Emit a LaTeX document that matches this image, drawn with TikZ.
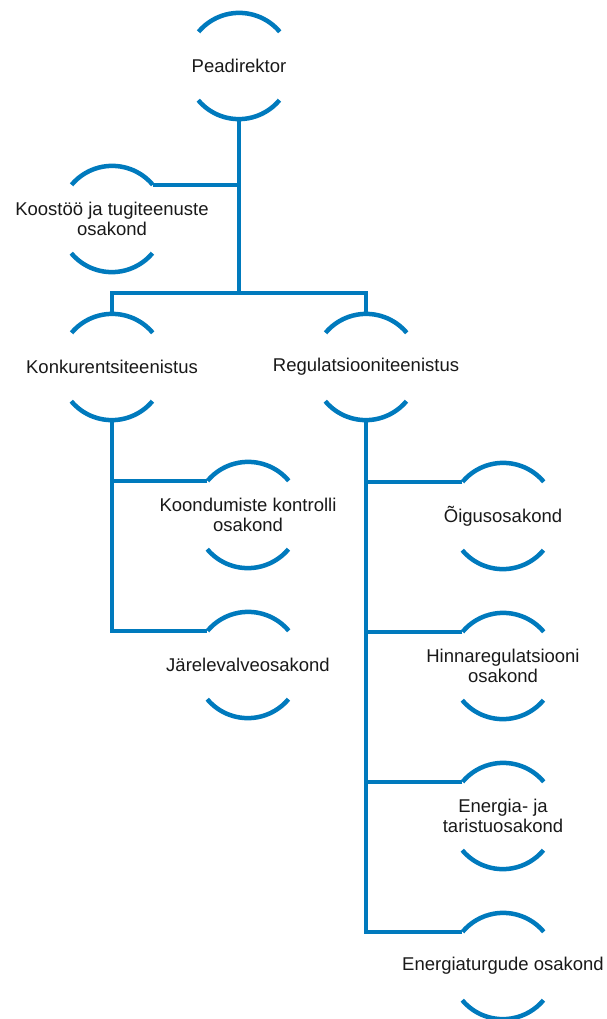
\documentclass[tikz,border=0pt]{standalone}
\usepackage{fontspec}
\setmainfont{Liberation Sans}
\definecolor{orgblue}{RGB}{0,122,189}
\definecolor{txt}{RGB}{25,25,25}
\tikzset{
  ring/.style={circle,draw=none,minimum size=106pt,inner sep=0pt},
  lbl/.style={text=txt,font=\fontsize{18.5}{20.5}\selectfont,align=center,inner sep=0pt},
  arcline/.style={draw=orgblue,line width=4.5pt,line cap=butt},
  conn/.style={draw=orgblue,line width=4.5pt,line join=miter}
}
\newcommand\orgunit[3]{%
  \node[ring] (#1) at (#2) {};
  \node[lbl] (#1-t) at (#1) {#3};
  \draw[arcline] (#1.40) arc[start angle=40,end angle=140,radius=53pt];
  \draw[arcline] (#1.220) arc[start angle=220,end angle=320,radius=53pt];
}
\begin{document}
\begin{tikzpicture}[x=1pt,y=1pt]
\useasboundingbox (0,0) rectangle (606,-1019);
\orgunit{pd}{239,-66}{Peadirektor}
\orgunit{ko}{112,-219}{Koostöö ja tugiteenuste\\osakond}
\orgunit{kr}{112,-367}{Konkurentsiteenistus}
\orgunit{rg}{366,-367}{Regulatsiooniteenistus}
\orgunit{kk}{248,-515}{Koondumiste kontrolli\\osakond}
\orgunit{jr}{248,-665}{Järelevalveosakond}
\orgunit{og}{503,-516}{Õigusosakond}
\orgunit{hr}{503,-666}{Hinnaregulatsiooni\\osakond}
\orgunit{et}{503,-816}{Energia- ja\\taristuosakond}
\orgunit{eo}{503,-966}{Energiaturgude osakond}
\coordinate (bar) at (239,-293);
% top level
\draw[conn] (pd.south) -- (bar);
\draw[conn] (ko.40) -- (ko.40 -| pd.south);
\draw[conn] (kr.north) -- (kr.north |- bar) -- (rg.north |- bar) -- (rg.north);
% left branch
\draw[conn] (kr.south) |- (jr.140);
\draw[conn] (kk.140) -- (kk.140 -| kr.south);
% right branch
\draw[conn] (rg.south) |- (eo.140);
\draw[conn] (og.140) -- (og.140 -| rg.south);
\draw[conn] (hr.140) -- (hr.140 -| rg.south);
\draw[conn] (et.140) -- (et.140 -| rg.south);
\end{tikzpicture}
\end{document}
